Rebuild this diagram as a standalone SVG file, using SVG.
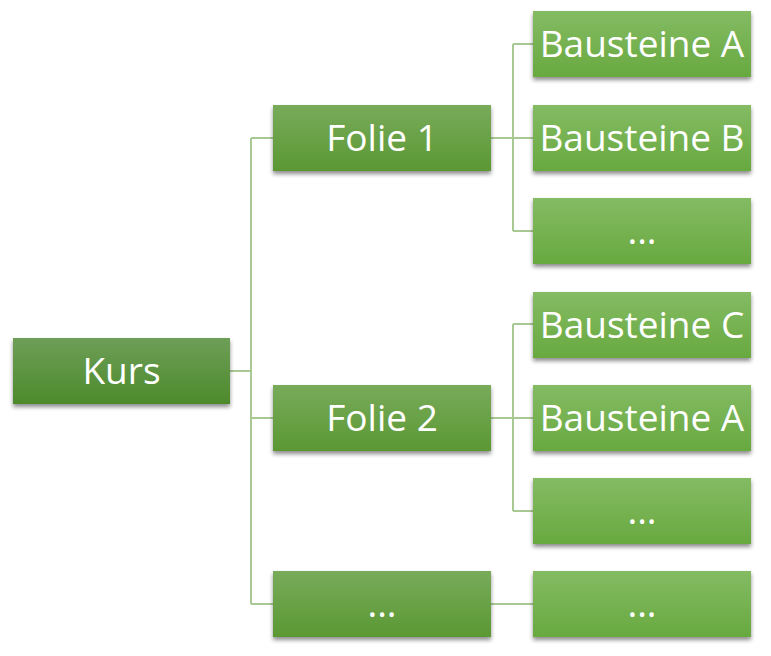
<svg xmlns="http://www.w3.org/2000/svg" width="771" height="656" viewBox="0 0 771 656">
<defs>
<linearGradient id="g1" x1="0" y1="0" x2="0" y2="1"><stop offset="0" stop-color="#6e9e58"/><stop offset="1" stop-color="#4d8a2b"/></linearGradient>
<linearGradient id="g2" x1="0" y1="0" x2="0" y2="1"><stop offset="0" stop-color="#78ab5a"/><stop offset="1" stop-color="#5b9833"/></linearGradient>
<linearGradient id="g3" x1="0" y1="0" x2="0" y2="1"><stop offset="0" stop-color="#84bb64"/><stop offset="1" stop-color="#68a93f"/></linearGradient>
<filter id="sh" x="-10%" y="-20%" width="120%" height="150%"><feDropShadow dx="0" dy="3" stdDeviation="2" flood-color="#000" flood-opacity="0.45"/></filter>
</defs>
<style>
.c{fill:none;stroke:#a8c994;stroke-width:2}
.n rect{filter:url(#sh)}
.l1 rect{fill:url(#g1)}
.l2 rect{fill:url(#g2)}
.l3 rect{fill:url(#g3)}
text{font-family:"Open Sans","Liberation Sans",sans-serif;font-size:37px;fill:#fff;text-anchor:middle}
</style>
<rect width="771" height="656" fill="#fff"/>
<g id="connectors">
<path class="c" d="M230 371H251M251 138V604M251 138H273M251 418H273M251 604H273"/>
<path class="c" d="M491 138H533M513 44V231M513 44H533M513 231H533"/>
<path class="c" d="M491 418H533M513 324V511M513 324H533M513 511H533"/>
<path class="c" d="M491 604H533"/>
</g>
<g id="kurs" class="n l1"><rect x="13" y="338" width="217" height="66"/><text x="121.5" y="384">Kurs</text></g>
<g id="folie1" class="n l2"><rect x="273" y="105" width="218" height="66"/><text x="382" y="151">Folie 1</text></g>
<g id="folie2" class="n l2"><rect x="273" y="385" width="218" height="66"/><text x="382" y="431">Folie 2</text></g>
<g id="folie3" class="n l2"><rect x="273" y="571" width="218" height="66"/><text x="382" y="617">...</text></g>
<g id="b1a" class="n l3"><rect x="533" y="11" width="218" height="66"/><text x="642" y="57">Bausteine A</text></g>
<g id="b1b" class="n l3"><rect x="533" y="105" width="218" height="66"/><text x="642" y="151">Bausteine B</text></g>
<g id="b1c" class="n l3"><rect x="533" y="198" width="218" height="66"/><text x="642" y="244">...</text></g>
<g id="b2c" class="n l3"><rect x="533" y="292" width="218" height="66"/><text x="642" y="338">Bausteine C</text></g>
<g id="b2a" class="n l3"><rect x="533" y="385" width="218" height="66"/><text x="642" y="431">Bausteine A</text></g>
<g id="b2d" class="n l3"><rect x="533" y="478" width="218" height="66"/><text x="642" y="524">...</text></g>
<g id="b3" class="n l3"><rect x="533" y="571" width="218" height="66"/><text x="642" y="617">...</text></g>
</svg>
